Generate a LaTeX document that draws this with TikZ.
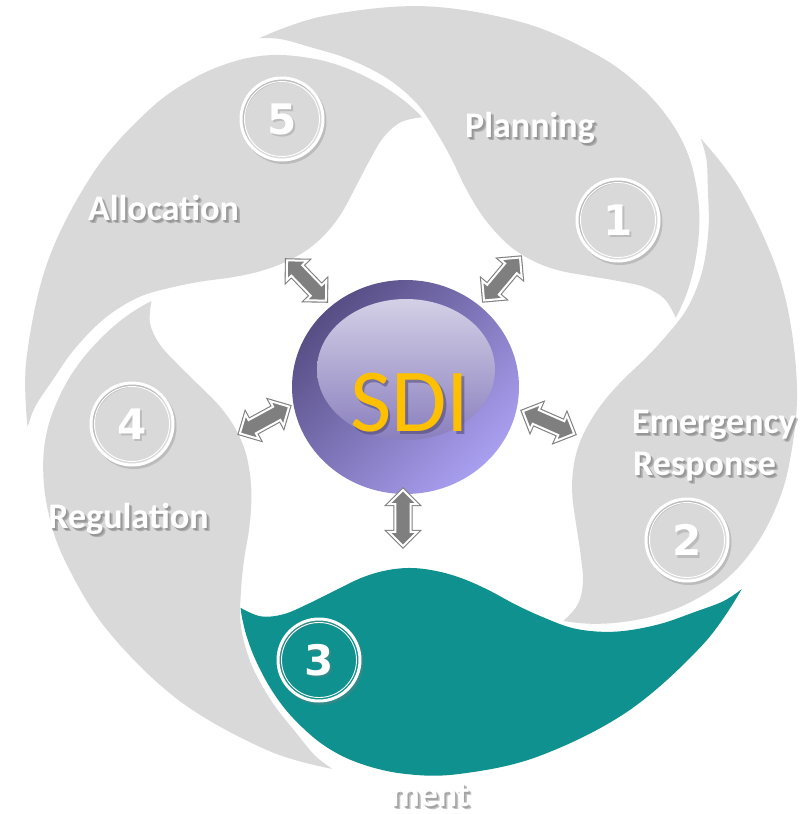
\documentclass[tikz,border=0pt]{standalone}
\usepackage{fontspec}
\setmainfont{Carlito}
\newfontfamily\digitfont{DejaVu Sans}
\usetikzlibrary{shapes.arrows,shapes.geometric}
\definecolor{petalgray}{HTML}{D9D9D9}
\definecolor{tealc}{HTML}{0F918F}
\definecolor{arrowgray}{HTML}{7F7F7F}
\definecolor{sdiorange}{HTML}{FFC000}
\definecolor{balldark}{HTML}{574E85}
\definecolor{balllight}{HTML}{A99FF0}
\definecolor{hitop}{HTML}{D3D0E6}
\definecolor{hibot}{HTML}{8A7FBE}
\definecolor{shadowgray}{HTML}{7A7A7A}
\tikzset{
  lbl/.style={font=\bfseries\fontsize{36}{40}\selectfont, text=white, inner sep=0pt, anchor=base},
  lblsh/.style={lbl, text=shadowgray, opacity=0.45},
  numring/.style={circle, draw=white, line width=3pt, minimum size=82pt, inner sep=0pt,
    font=\digitfont\bfseries\fontsize{42}{42}\selectfont, text=white},
  numsh/.style={circle, draw=shadowgray, line width=3pt, minimum size=82pt, inner sep=0pt,
    font=\digitfont\bfseries\fontsize{42}{42}\selectfont, text=shadowgray, opacity=0.3},
  dblarrow/.style={double arrow, draw=arrowgray, double=white, line width=1.1pt,
    double distance=2pt, fill=arrowgray, inner xsep=0pt, inner ysep=7pt,
    double arrow head extend=6.5pt, minimum height=56pt}
}
\newcommand{\shlabel}[4]{%
  \node[lblsh] (#1sha) at (#2+3,#3+3.5) {#4};
  \node[lblsh] (#1sh) at (#2+1.5,#3+2) {#4};
  \node[lbl] (#1) at (#2,#3) {#4};}
\newcommand{\numcircle}[4]{%
  \node[numsh] (#1sh) at (#2+2,#3+2.5) {#4};
  \node[numring] (#1) at (#2,#3) {#4};
  \draw[white, line width=0.9pt] (#1.center) circle[radius=37.5pt];}
\begin{document}
\begin{tikzpicture}[x=1pt,y=-1pt]
\useasboundingbox (0,0) rectangle (804,814);
\fill[white] (0,0) rectangle (804,814);
% petals
\begin{scope}[shift={(411,392)}]
\foreach \a/\col in {246.8/petalgray,318.8/petalgray,30.8/tealc,101.8/petalgray,174.8/petalgray}{
  \fill[\col] plot[smooth,tension=0.6] coordinates {(\a:385) (\a+10:386) (\a+25:386) (\a+40:386) (\a+52:385) (\a+60:382) (\a+67:375) (\a+73:364) (\a+79:347) (\a+84:330) (\a+89:311) (\a+93:295) (\a+96:282) (\a+97.5:275)}
   -- plot[smooth,tension=0.6] coordinates {(\a+97.5:275) (\a+93:270) (\a+89:256) (\a+85:235) (\a+80:212) (\a+74:192) (\a+67:180) (\a+59:176) (\a+51:181) (\a+44:193) (\a+38:212) (\a+33:237) (\a+29:260) (\a+25:285) (\a+21:305) (\a+17:322) (\a+12:341) (\a+7:359) (\a+3:376) (\a:385)} -- cycle;
}
\end{scope}
% number circles
\numcircle{n1}{618}{220}{1}
\numcircle{n2}{687}{540}{2}
\numcircle{n3}{319}{660}{3}
\numcircle{n4}{132}{424}{4}
\numcircle{n5}{282}{119}{5}
% labels
\shlabel{planning}{530}{137}{Planning}
\shlabel{allocation}{163.5}{220}{Allocation}
\shlabel{regulation}{128.5}{528}{Regulation}
\shlabel{emergency}{714}{433}{Emergency}
\shlabel{response}{704.5}{475}{Response}
\shlabel{ment}{430}{806}{ment}
% SDI ball
\shade[top color=balldark, bottom color=balllight, shading angle=45] (405.5,387) ellipse[x radius=113.5, y radius=107];
\shade[top color=hitop, bottom color=hibot] (406,369.5) ellipse[x radius=89, y radius=70.5];
\node[font=\fontsize{90}{90}\selectfont, text=balldark!70!black, opacity=0.45, inner sep=0pt] (sdish) at (412.5,406) {SDI};
\node[font=\fontsize{90}{90}\selectfont, text=sdiorange, inner sep=0pt] (sdi) at (410,403) {SDI};
% arrows
\node[dblarrow, rotate=-46] (a1) at (306.5,280.5) {};
\node[dblarrow, rotate=50] (a2) at (502,279) {};
\node[dblarrow, rotate=28.6] (a3) at (264.5,420) {};
\node[dblarrow, rotate=-23.7] (a4) at (548.5,422.5) {};
\node[dblarrow, rotate=90] (a5) at (403,518) {};
\end{tikzpicture}
\end{document}
